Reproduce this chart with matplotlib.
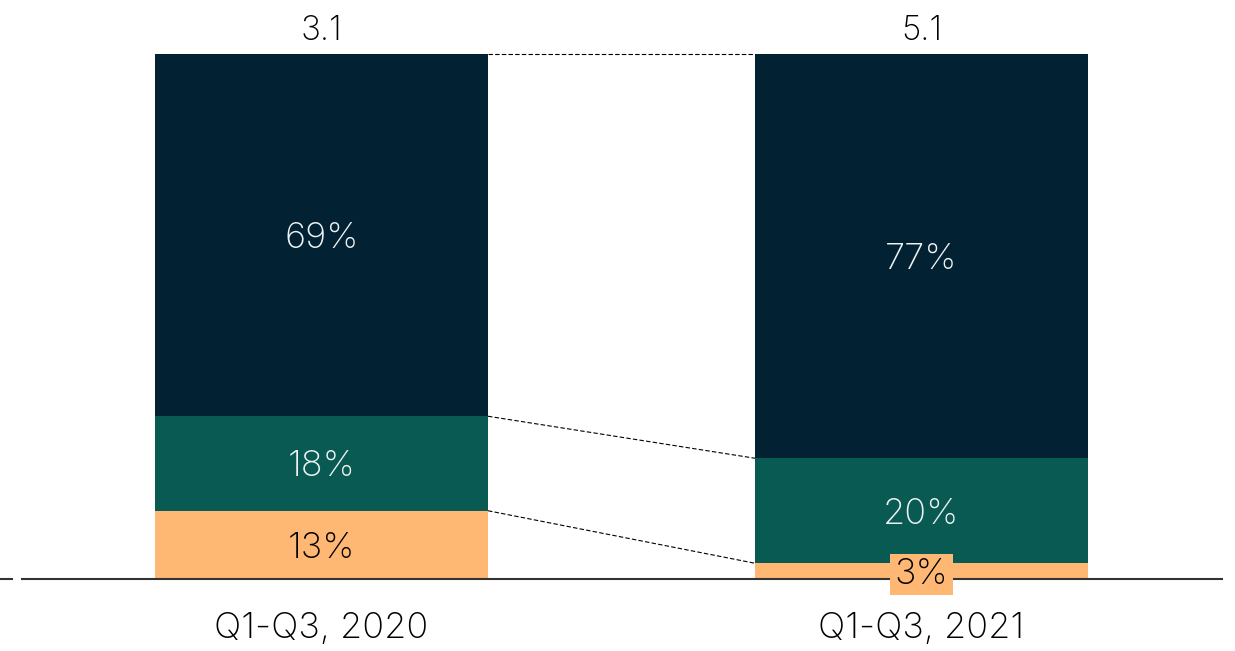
import matplotlib.pyplot as plt
from matplotlib.lines import Line2D

# data
periods = ["Q1-Q3, 2020", "Q1-Q3, 2021"]
totals = ["3.1", "5.1"]
bottom_share = [13, 3]
middle_share = [18, 20]
top_share = [69, 77]

colors = ["#FEB873", "#0A5A54", "#022133"]
font = ["Inter", "DejaVu Sans"]

fig = plt.figure(figsize=(12.35, 6.51), dpi=100)
ax = fig.add_axes([21.5 / 1235, 72 / 651, 1200 / 1235, 525 / 651])

x = [0, 1]
width = 0.555
segments = [bottom_share, middle_share, top_share]
base = [0, 0]
for seg, col in zip(segments, colors):
    ax.bar(x, seg, width, bottom=base, color=col, zorder=2)
    for i in x:
        txt_col = "black" if col == colors[0] else "#eef3f3"
        y = base[i] + seg[i] / 2
        kw = {}
        if seg[i] < 6:
            kw["bbox"] = dict(facecolor=colors[0], edgecolor="none", pad=3)
        ax.text(i, y, f"{seg[i]}%", ha="center", va="center_baseline", fontsize=26,
                color=txt_col, family=font, weight="light", zorder=4, **kw)
    base = [b + s for b, s in zip(base, seg)]

# dashed connectors between the bars
levels = [
    [bottom_share[0], bottom_share[1]],
    [bottom_share[0] + middle_share[0], bottom_share[1] + middle_share[1]],
    [100, 100],
]
for y0, y1 in levels:
    ax.plot([width / 2, 1 - width / 2], [y0, y1], color="black", lw=0.8,
            ls=(0, (4, 2)), zorder=1, clip_on=False)

# totals above the bars
for i in x:
    ax.text(i, 100 + 5.0, totals[i], ha="center", va="center_baseline", fontsize=24,
            family=font, weight="light", color="black", clip_on=False)

ax.set_xlim(-0.5, 1.5)
ax.set_ylim(0, 100)
ax.set_xticks(x)
ax.set_xticklabels(periods, fontsize=26, family=font, weight="light")
ax.tick_params(axis="x", length=0, pad=24)
ax.set_yticks([])
for s in ["top", "left", "right"]:
    ax.spines[s].set_visible(False)
ax.spines["bottom"].set_color("#333333")
ax.spines["bottom"].set_linewidth(1.5)
ax.spines["bottom"].set_zorder(3)

# small stub of the axis line at the far left
fig.add_artist(Line2D([0, 12 / 1235], [72 / 651, 72 / 651], color="#333333", lw=1.5))

fig.savefig("out.png", dpi=100)
